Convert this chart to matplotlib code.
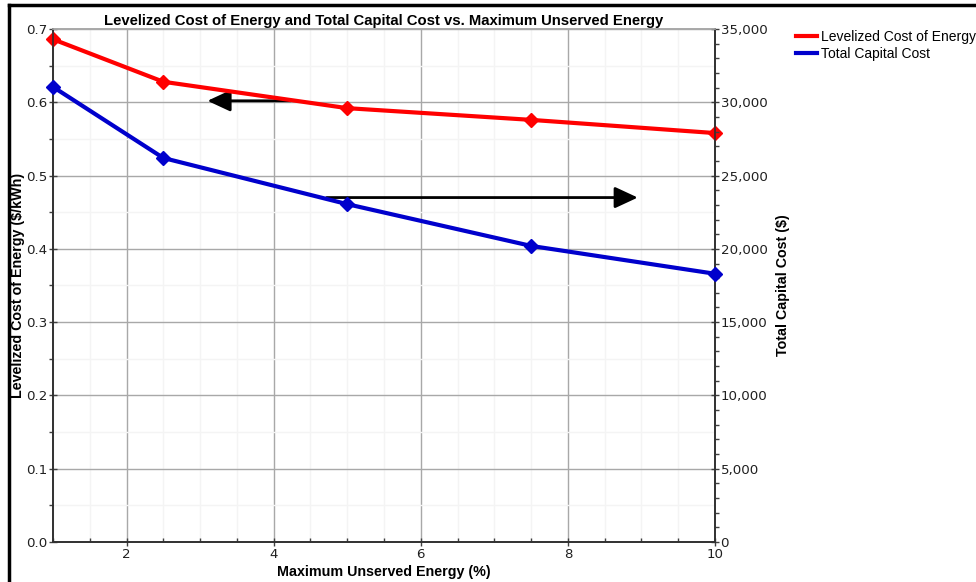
import matplotlib
matplotlib.use("Agg")
import matplotlib.pyplot as plt
from matplotlib.lines import Line2D
from matplotlib.ticker import MultipleLocator, FuncFormatter

plt.rcParams['font.family'] = ['Liberation Sans', 'DejaVu Sans']

unserved_pct = [1, 2.5, 5, 7.5, 10]
lcoe = [0.686, 0.628, 0.592, 0.576, 0.558]
capital_cost = [31050, 26200, 23050, 20200, 18300]

title = "Levelized Cost of Energy and Total Capital Cost vs. Maximum Unserved Energy"
xlabel = "Maximum Unserved Energy (%)"
ylabel_left = "Levelized Cost of Energy ($/kWh)"
ylabel_right = "Total Capital Cost ($)"
series_names = ["Levelized Cost of Energy", "Total Capital Cost"]

W, H = 976, 582
fig = plt.figure(figsize=(W / 100, H / 100), dpi=100)
ax = fig.add_axes([53 / W, 1 - 542 / H, (715 - 53) / W, (542 - 29) / H])
ax2 = ax.twinx()

major_c = "#a8a8a8"
minor_c = "#f4f4f4"

ax.set_xlim(1, 10)
ax.set_ylim(0, 0.7)
ax2.set_ylim(0, 35000)

ax.xaxis.set_major_locator(MultipleLocator(2))
ax.xaxis.set_minor_locator(MultipleLocator(0.5))
ax.yaxis.set_major_locator(MultipleLocator(0.1))
ax.yaxis.set_minor_locator(MultipleLocator(0.05))
ax.yaxis.set_major_formatter(FuncFormatter(lambda v, p: f"{v:.1f}"))
ax2.yaxis.set_major_locator(MultipleLocator(5000))
ax2.yaxis.set_minor_locator(MultipleLocator(1000))
ax2.yaxis.set_major_formatter(FuncFormatter(lambda v, p: f"{int(v):,}"))

ax.grid(which="minor", color=minor_c, linewidth=1)
ax.grid(which="major", color=major_c, linewidth=1)
ax.set_axisbelow(True)

for a in (ax, ax2):
    a.tick_params(which="major", direction="inout", length=6, width=1,
                  color="#404040", labelcolor="#202020", pad=1)
    a.tick_params(which="minor", direction="out", length=3, width=1, color="#404040")
ax.tick_params(axis="x", which="minor", direction="in", length=3)
for lbl in ax.get_xticklabels() + ax.get_yticklabels() + ax2.get_yticklabels():
    lbl.set_fontfamily("DejaVu Sans")
    lbl.set_fontsize(9.6)

for a in (ax, ax2):
    for s in a.spines.values():
        s.set_linewidth(1.2)
        s.set_color("#303030")
    a.spines["top"].set_color(major_c)

ax.plot(unserved_pct, lcoe, color="#ff0000", linewidth=3, marker="D",
        markersize=7, clip_on=False, zorder=5)
ax2.plot(unserved_pct, capital_cost, color="#0000cc", linewidth=3, marker="D",
         markersize=7, clip_on=False, zorder=5)

ax.set_title(title, fontsize=10.7, fontweight="bold", pad=3)
ax.set_xlabel(xlabel, fontsize=10.3, fontweight="bold")
ax.xaxis.set_label_coords(0.5, -0.045)
ax.set_ylabel(ylabel_left, fontsize=10.3, fontweight="bold")
ax.yaxis.set_label_coords(-0.042, 0.5)
ax2.set_ylabel(ylabel_right, fontsize=10.3, fontweight="bold", labelpad=6)

# direction arrows pointing to each series' axis
arrow_style = dict(arrowstyle="-|>,head_length=1.4,head_width=0.65",
                   color="black", lw=2, shrinkA=0, shrinkB=0)
ax.annotate("", xy=(3.1, 0.602), xytext=(4.23, 0.602), arrowprops=arrow_style)
ax.annotate("", xy=(8.95, 0.470), xytext=(4.72, 0.470), arrowprops=arrow_style)

handles = [Line2D([], [], color="#ff0000", linewidth=3),
           Line2D([], [], color="#0000cc", linewidth=3)]
fig.legend(handles, series_names, loc="upper left",
           bbox_to_anchor=(796 / W, 1 - 30 / H), frameon=False, fontsize=10,
           handlelength=1.5, handletextpad=0.3, labelspacing=0.2,
           borderaxespad=0, borderpad=0)

# outer frame
fig.add_artist(Line2D([9 / W, 9 / W], [0, 1 - 5 / H], transform=fig.transFigure,
                      color="black", linewidth=2.5))
fig.add_artist(Line2D([9 / W, 1], [1 - 5 / H, 1 - 5 / H], transform=fig.transFigure,
                      color="black", linewidth=2.5))

fig.savefig("out.png", dpi=100)
